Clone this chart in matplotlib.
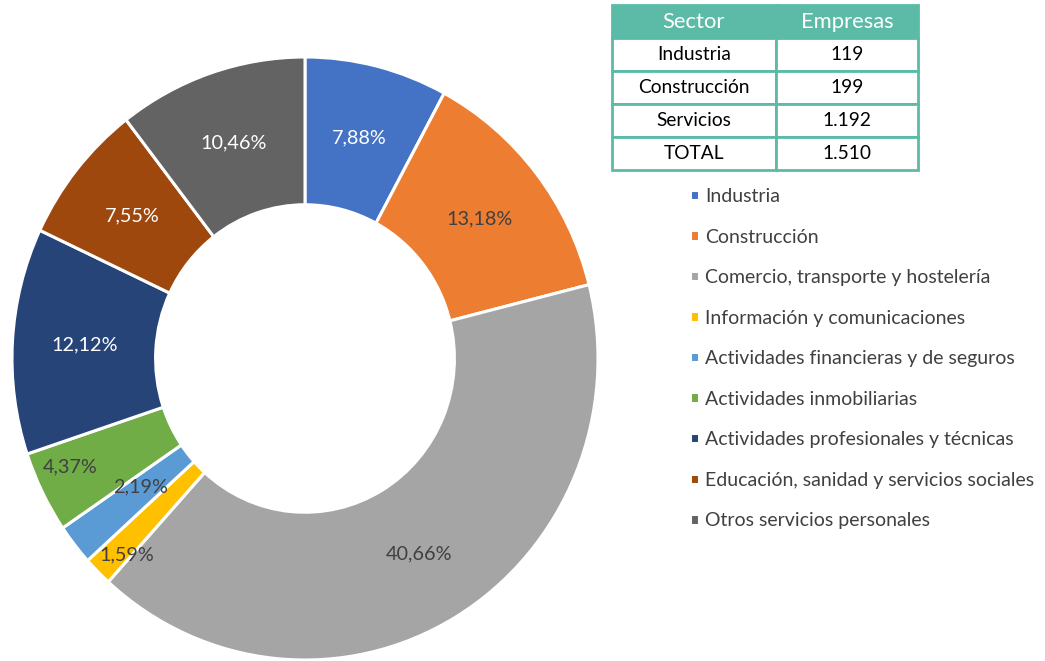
import matplotlib.pyplot as plt
import numpy as np

plt.rcParams['font.family'] = ['Lato', 'DejaVu Sans']

# porcentaje de empresas por actividad
actividades = ['Industria', 'Construcción', 'Comercio, transporte y hostelería',
               'Información y comunicaciones', 'Actividades financieras y de seguros',
               'Actividades inmobiliarias', 'Actividades profesionales y técnicas',
               'Educación, sanidad y servicios sociales', 'Otros servicios personales']
porcentajes = [7.88, 13.18, 40.66, 1.59, 2.19, 4.37, 12.12, 7.55, 10.46]
colores = ['#4472C4', '#ED7D31', '#A5A5A5', '#FFC000', '#5B9BD5',
           '#70AD47', '#264478', '#9E480E', '#636363']
texto_blanco = [True, False, False, False, False, False, True, True, True]

# tabla resumen
sectores = ['Industria', 'Construcción', 'Servicios', 'TOTAL']
empresas = ['119', '199', '1.192', '1.510']

W, H = 1045, 661
fig = plt.figure(figsize=(W/100, H/100), dpi=100)

# donut (un poco más alto que ancho, como en el original)
cx, cy, rx, ry = 305, 358.5, 293, 301.5
ax = fig.add_axes([(cx - rx)/W, (H - cy - ry)/H, 2*rx/W, 2*ry/H])
wedges, texts, autotexts = ax.pie(
    porcentajes, colors=colores, startangle=90, counterclock=False,
    radius=1, autopct=lambda p: f'{p:.2f}%'.replace('.', ','),
    pctdistance=0.755, wedgeprops=dict(width=0.49, edgecolor='white', linewidth=2.2),
    textprops=dict(fontsize=14.3))
for t, blanco in zip(autotexts, texto_blanco):
    t.set_color('white' if blanco else '#404040')
# Excel desplaza las etiquetas pequeñas
autotexts[5].set_position((-0.80, -0.36))
autotexts[4].set_position((-0.563, -0.426))
autotexts[3].set_position((-0.608, -0.652))
ax.set_xlim(-1, 1)
ax.set_ylim(-1, 1)
ax.set_aspect('auto')
ax.axis('off')

# leyenda
fig.legend(wedges, actividades, loc='upper left',
           bbox_to_anchor=(690/W, 1 - 188/H), frameon=False,
           borderaxespad=0, borderpad=0,
           fontsize=14, handlelength=0.45, handleheight=0.45,
           handletextpad=0.33, labelspacing=1.21, labelcolor='#404040')

# tabla
tx0, ty0, tx1, ty1 = 612, 5, 918, 170
tax = fig.add_axes([tx0/W, (H - ty1)/H, (tx1 - tx0)/W, (ty1 - ty0)/H])
tax.axis('off')
filas = [[s, e] for s, e in zip(sectores, empresas)]
tabla = tax.table(cellText=filas, colLabels=['Sector', 'Empresas'],
                  cellLoc='center', bbox=[0, 0, 1, 1], colWidths=[0.535, 0.465])
tabla.auto_set_font_size(False)
for (i, j), cell in tabla.get_celld().items():
    cell.set_edgecolor('#5BBBA7')
    cell.set_linewidth(2)
    cell.get_text().set_fontsize(13.8)
    if i == 0:
        cell.set_facecolor('#5BBBA7')
        cell.get_text().set_color('white')
        cell.get_text().set_fontsize(15.8)

fig.savefig('out.png', dpi=100)
